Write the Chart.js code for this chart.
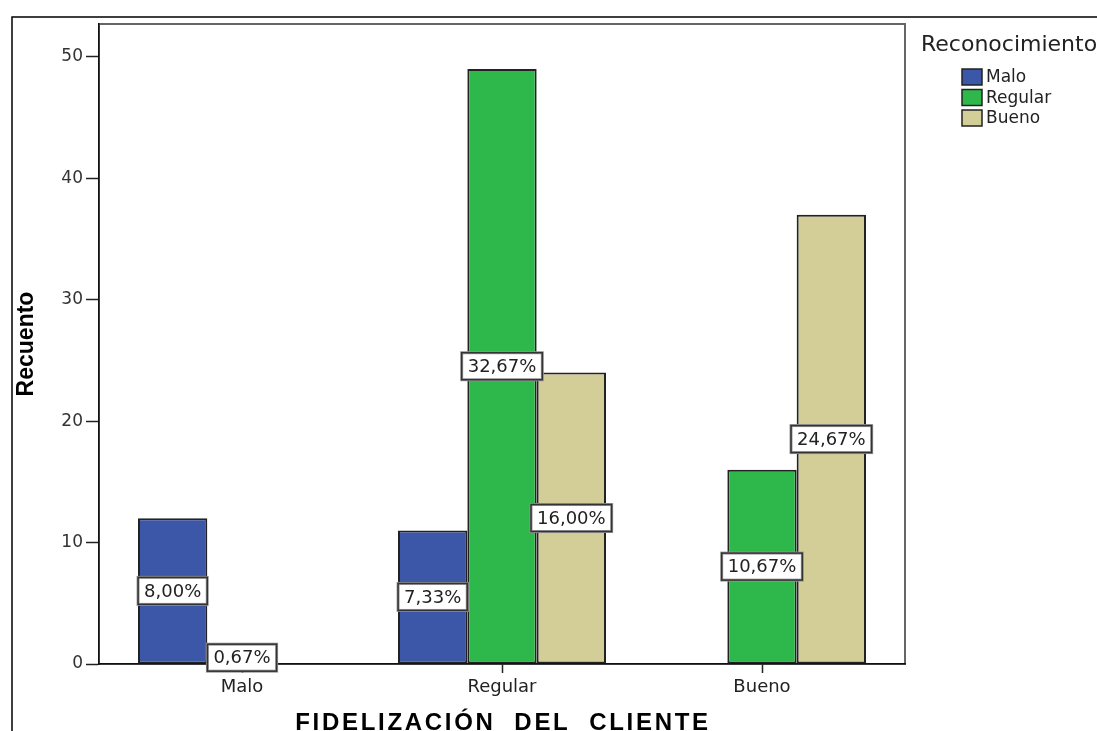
<!DOCTYPE html>
<html><head><meta charset="utf-8">
<script src="https://cdn.jsdelivr.net/npm/chart.js@4/dist/chart.umd.min.js"></script>
<style>html,body{margin:0;padding:0;background:#fff;}canvas{display:block;}</style>
</head><body>
<canvas id="c" width="1097" height="731"></canvas>
<script>
// ---- data ----
const categories = ['Malo', 'Regular', 'Bueno'];
const seriesNames = ['Malo', 'Regular', 'Bueno'];
const maloCounts = [12, 11, 0];
const regularCounts = [1, 49, 16];
const buenoCounts = [0, 24, 37];
const maloPct = ['8,00%', '7,33%', ''];
const regularPct = ['0,67%', '32,67%', '10,67%'];
const buenoPct = ['', '16,00%', '24,67%'];
const yTicks = [0, 10, 20, 30, 40, 50];
const xTitle = 'FIDELIZACIÓN  DEL  CLIENTE';
const yTitle = 'Recuento';
const legendTitle = 'Reconocimiento';
const colors = ['#3C57A8', '#2EB84B', '#D3CE98'];

const toPoints = arr => arr.map((v, i) => ({ x: i, y: v }));

const framePlugin = {
  id: 'frame',
  beforeDraw(chart) {
    const ctx = chart.ctx;
    ctx.save();
    ctx.fillStyle = '#fff';
    ctx.fillRect(0, 0, chart.width, chart.height);
    ctx.strokeStyle = '#000';
    ctx.lineWidth = 1.5;
    ctx.beginPath();
    ctx.moveTo(12, chart.height);
    ctx.lineTo(12, 17);
    ctx.lineTo(chart.width, 17);
    ctx.stroke();
    const a = chart.chartArea;
    ctx.strokeStyle = '#666';
    ctx.lineWidth = 2;
    ctx.strokeRect(a.left, a.top, a.right - a.left, a.bottom - a.top);
    ctx.restore();
  }
};

const labelPlugin = {
  id: 'pctLabels',
  afterDatasetsDraw(chart) {
    const ctx = chart.ctx;
    ctx.save();
    ctx.font = '18px "DejaVu Sans"';
    ctx.textAlign = 'center';
    ctx.textBaseline = 'middle';
    chart.data.datasets.forEach((ds, di) => {
      const meta = chart.getDatasetMeta(di);
      meta.data.forEach((bar, i) => {
        const t = ds.pct[i];
        if (!t) return;
        const x = bar.x, y = (bar.y + bar.base) / 2;
        const w = ctx.measureText(t).width + 12, h = 27;
        ctx.fillStyle = '#fff';
        ctx.fillRect(x - w / 2, y - h / 2, w, h);
        ctx.strokeStyle = '#999';
        ctx.lineWidth = 3;
        ctx.strokeRect(x - w / 2, y - h / 2, w, h);
        ctx.strokeStyle = '#333';
        ctx.lineWidth = 1.5;
        ctx.strokeRect(x - w / 2, y - h / 2, w, h);
        ctx.fillStyle = '#222';
        ctx.fillText(t, x, y + 1);
      });
    });
    ctx.restore();
  }
};

const legendPlugin = {
  id: 'customLegend',
  afterDraw(chart) {
    const ctx = chart.ctx;
    ctx.save();
    ctx.fillStyle = '#222';
    ctx.textBaseline = 'middle';
    ctx.textAlign = 'left';
    ctx.font = '22px "DejaVu Sans"';
    ctx.fillText(legendTitle, 921, 45);
    ctx.font = '17px "DejaVu Sans"';
    const rows = [77, 97.5, 118];
    chart.data.datasets.forEach((ds, i) => {
      const cy = rows[i];
      ctx.fillStyle = ds.backgroundColor;
      ctx.fillRect(962, cy - 8, 20, 16);
      ctx.strokeStyle = '#222';
      ctx.lineWidth = 1.5;
      ctx.strokeRect(962, cy - 8, 20, 16);
      ctx.fillStyle = '#222';
      ctx.fillText(ds.label, 986, cy + 1);
    });
    // x axis title
    ctx.font = 'bold 24px "Liberation Sans"';
    ctx.fillStyle = '#000';
    ctx.textAlign = 'center';
    ctx.textBaseline = 'alphabetic';
    try { ctx.letterSpacing = '2.7px'; } catch (e) {}
    const a = chart.chartArea;
    ctx.fillText(xTitle, (a.left + a.right) / 2 + 1, 730);
    ctx.restore();
  }
};

const counts = [maloCounts, regularCounts, buenoCounts];
const pcts = [maloPct, regularPct, buenoPct];

new Chart(document.getElementById('c'), {
  type: 'bar',
  data: {
    datasets: seriesNames.map((name, i) => ({
      label: name,
      data: toPoints(counts[i]),
      pct: pcts[i],
      backgroundColor: colors[i],
      borderColor: '#222',
      borderWidth: 2,
      borderSkipped: false,
      categoryPercentage: 0.8,
      barPercentage: 1.0
    }))
  },
  options: {
    responsive: false,
    animation: false,
    layout: { padding: { top: 24, right: 192, left: 0, bottom: 0 } },
    plugins: { legend: { display: false }, tooltip: { enabled: false } },
    font: { family: 'DejaVu Sans' },
    scales: {
      x: {
        type: 'linear',
        offset: false,
        min: -0.55,
        max: 2.55,
        afterBuildTicks: s => { s.ticks = categories.map((c, i) => ({ value: i })); },
        afterFit: s => { s.height = 67; },
        ticks: {
          callback: v => categories[v],
          font: { family: 'DejaVu Sans', size: 18 },
          color: '#222',
          padding: 4,
          maxRotation: 0,
          autoSkip: false
        },
        grid: { offset: false, drawOnChartArea: false, drawTicks: true, tickLength: 9, tickColor: '#222', tickWidth: 1.5 },
        border: { display: true, color: '#111', width: 1.5 }
      },
      y: {
        min: 0,
        max: 52.7,
        afterBuildTicks: s => { s.ticks = yTicks.map(v => ({ value: v })); },
        afterFit: s => { s.width = 99; },
        ticks: {
          font: { family: 'DejaVu Sans', size: 17 },
          color: '#333',
          padding: 3
        },
        grid: { drawOnChartArea: false, drawTicks: true, tickLength: 13, tickColor: '#222', tickWidth: 1.5 },
        border: { display: true, color: '#111', width: 1.5 },
        title: {
          display: true,
          text: yTitle,
          font: { family: 'Liberation Sans', size: 23, weight: 'bold' },
          color: '#000',
          padding: { top: 13, bottom: 0 }
        }
      }
    }
  },
  plugins: [framePlugin, labelPlugin, legendPlugin]
});
</script>
</body></html>
